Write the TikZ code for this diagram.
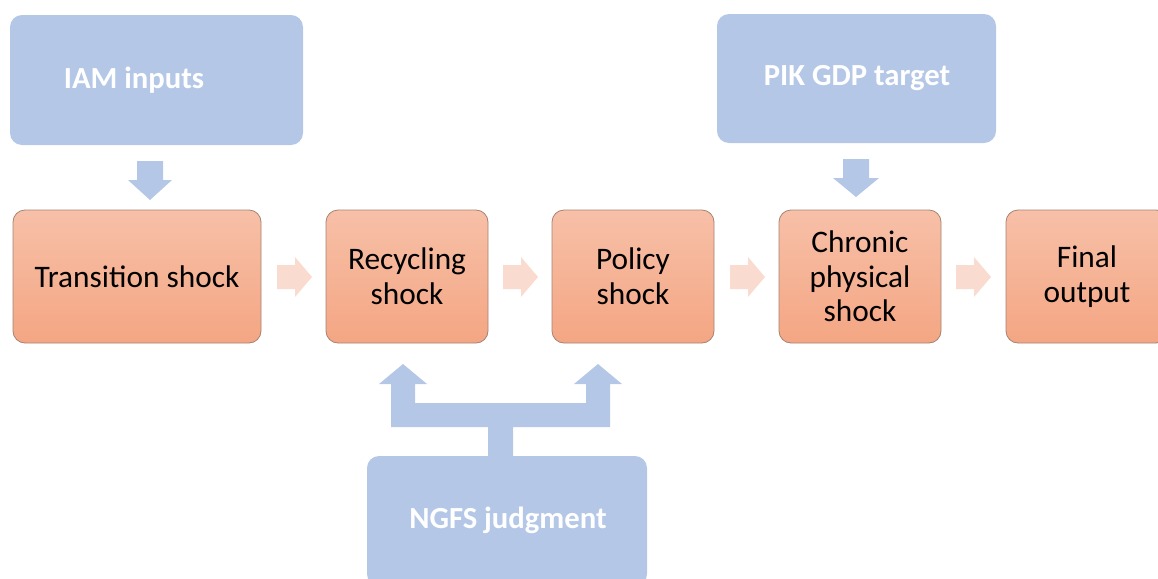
\documentclass[tikz,border=0pt]{standalone}
\usepackage{fontspec}
\setmainfont{Carlito}
\usetikzlibrary{calc}
\definecolor{boxblue}{HTML}{B4C7E7}
\definecolor{orTop}{HTML}{F7C0A8}
\definecolor{orBot}{HTML}{F4A683}
\definecolor{orLine}{HTML}{A58272}
\definecolor{pinkarr}{HTML}{F9DBD0}
\tikzset{
  bluebox/.style={fill=boxblue, rounded corners=9pt, inner sep=0pt},
  bluetext/.style={text=white, font=\fontsize{23}{26}\selectfont\bfseries},
  orbox/.style={top color=orTop, bottom color=orBot, draw=orLine, line width=0.6pt,
     rounded corners=9pt, minimum width=162*0.75pt, minimum height=133*0.75pt,
     align=center, font=\fontsize{23.5}{26}\selectfont, inner sep=0pt},
  bluearrow/.style={fill=boxblue},
  pinkarrow/.style={fill=pinkarr}
}
\newcommand{\rightblock}[3]{% name, x start, y centre
  \fill[pinkarrow] (#2,#3-12) -- (#2+18,#3-12) -- (#2+18,#3-20) -- (#2+35,#3)
    -- (#2+18,#3+20) -- (#2+18,#3+12) -- (#2,#3+12) -- cycle;}
\begin{document}
\begin{tikzpicture}[x=0.75pt,y=-0.75pt]
\useasboundingbox (0,0) rectangle (1158,579);
\clip (0,0) rectangle (1158,579);
% blue input boxes
\node[bluebox, minimum width=293*0.75pt, minimum height=130*0.75pt] (iam) at (156.5,80) {};
\node[bluetext] (iamtxt) at (134,80) {IAM inputs};
\node[bluebox, minimum width=279*0.75pt, minimum height=129*0.75pt] (pik) at (856.5,78.5) {};
\node[bluetext] (piktxt) at (857,78) {PIK GDP target};
\node[bluebox, minimum width=280*0.75pt, minimum height=130*0.75pt] (ngfs) at (507,521) {};
\node[bluetext] (ngfstxt) at (508,520) {NGFS judgment};
% orange chain
\node[orbox, minimum width=248*0.75pt] (trans) at (137,276.5) {Transition shock};
\node[orbox] (recy) at (407,276.5) {Recycling\\shock};
\node[orbox] (pol) at (633,276.5) {Policy\\shock};
\node[orbox] (chron) at (860,276.5) {Chronic\\physical\\shock};
\node[orbox] (fin) at (1087,276.5) {Final\\output};
% flow arrows between chain boxes
\rightblock{a1}{277}{277}
\rightblock{a2}{503}{277}
\rightblock{a3}{730}{277}
\rightblock{a4}{956}{277}
% down arrows
\fill[bluearrow] (137,161) -- (163,161) -- (163,180) -- (172,180) -- (150,200)
   -- (128,180) -- (137,180) -- cycle;
\fill[bluearrow] (843,159) -- (869,159) -- (869,178) -- (879,178) -- (856,197)
   -- (833,178) -- (843,178) -- cycle;
% T connector from NGFS judgment
\fill[bluearrow] (488,456) -- (488,427) -- (391,427) -- (391,384) -- (379,384)
   -- (403,364) -- (427,384) -- (415,384) -- (415,403) -- (586,403) -- (586,384)
   -- (574,384) -- (598,364) -- (622,384) -- (610,384) -- (610,427) -- (513,427)
   -- (513,456) -- cycle;
\end{tikzpicture}
\end{document}
